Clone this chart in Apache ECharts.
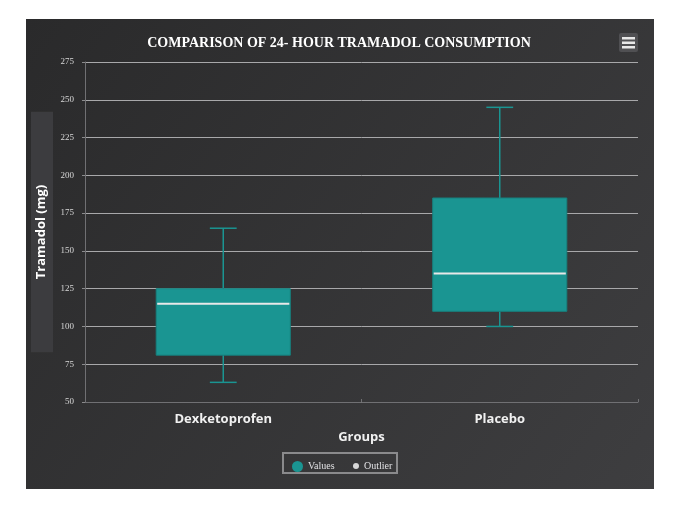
<!DOCTYPE html>
<html>
<head>
<meta charset="utf-8">
<style>
html,body{margin:0;padding:0;background:#ffffff;}
#chart{width:678px;height:519px;}
</style>
<script src="https://cdn.jsdelivr.net/npm/echarts@6/dist/echarts.min.js"></script>
</head>
<body>
<div id="chart"></div>
<script>
var categories = ['Dexketoprofen', 'Placebo'];
var mins = [63, 100];
var q1s = [81, 110];
var medians = [115, 135];
var q3s = [125, 185];
var maxs = [165, 245];
var outliers = [];
var yTicks = [50, 75, 100, 125, 150, 175, 200, 225, 250, 275];

var boxData = categories.map(function (c, i) {
  return [i, mins[i], q1s[i], medians[i], q3s[i], maxs[i]];
});

var teal = '#1a9592';

function renderBox(params, api) {
  var x = api.value(0);
  var pMin = api.coord([x, api.value(1)]);
  var pQ1 = api.coord([x, api.value(2)]);
  var pMed = api.coord([x, api.value(3)]);
  var pQ3 = api.coord([x, api.value(4)]);
  var pMax = api.coord([x, api.value(5)]);
  var bw = api.size([1, 0])[0] * 0.485;
  var cw = bw * 0.2;
  var cx = pMed[0];
  return {
    type: 'group',
    children: [
      {type: 'line', shape: {x1: cx, y1: pMax[1], x2: cx, y2: pQ3[1]}, style: {stroke: teal, lineWidth: 1.5}},
      {type: 'line', shape: {x1: cx, y1: pQ1[1], x2: cx, y2: pMin[1]}, style: {stroke: teal, lineWidth: 1.5}},
      {type: 'line', shape: {x1: cx - cw / 2, y1: pMax[1], x2: cx + cw / 2, y2: pMax[1]}, style: {stroke: teal, lineWidth: 1.5}},
      {type: 'line', shape: {x1: cx - cw / 2, y1: pMin[1], x2: cx + cw / 2, y2: pMin[1]}, style: {stroke: teal, lineWidth: 1.5}},
      {type: 'rect', shape: {x: cx - bw / 2, y: pQ3[1], width: bw, height: pQ1[1] - pQ3[1]}, style: {fill: teal, stroke: '#17807e', lineWidth: 1}},
      {type: 'line', shape: {x1: cx - bw / 2 + 1, y1: pMed[1], x2: cx + bw / 2 - 1, y2: pMed[1]}, style: {stroke: '#e8e8e8', lineWidth: 2}}
    ]
  };
}

var chart = echarts.init(document.getElementById('chart'));
chart.setOption({
  animation: false,
  backgroundColor: '#ffffff',
  graphic: [
    {type: 'rect', z: -10, shape: {x: 26, y: 19, width: 628, height: 470},
     style: {fill: new echarts.graphic.LinearGradient(0, 0, 1, 1, [{offset: 0, color: '#2a2a2b'}, {offset: 1, color: '#3e3e40'}])}},
    {type: 'rect', z: -9, shape: {x: 619, y: 33, width: 19, height: 19, r: 2}, style: {fill: '#505053'}},
    {type: 'rect', z: -8, shape: {x: 622, y: 37, width: 13, height: 2.5}, style: {fill: '#e8e8e8'}},
    {type: 'rect', z: -8, shape: {x: 622, y: 41.5, width: 13, height: 2.5}, style: {fill: '#e8e8e8'}},
    {type: 'rect', z: -8, shape: {x: 622, y: 46, width: 13, height: 2.5}, style: {fill: '#e8e8e8'}},
    {type: 'rect', z: -8, shape: {x: 283, y: 453, width: 114, height: 20}, style: {fill: 'none', stroke: '#8a8a8c', lineWidth: 2}}
  ],
  title: {
    text: 'COMPARISON OF 24- HOUR TRAMADOL CONSUMPTION',
    left: 'center',
    top: 31,
    textStyle: {color: '#ffffff', fontFamily: 'Liberation Serif', fontWeight: 'bold', fontSize: 14}
  },
  legend: [
    {data: ['Values'], left: 287, top: 456, itemWidth: 11, itemHeight: 11, icon: 'circle', itemGap: 10,
     textStyle: {color: '#e0e0e3', fontFamily: 'Liberation Serif', fontSize: 10}},
    {data: ['Outlier'], left: 348, top: 456, itemWidth: 6, itemHeight: 6, icon: 'circle', itemGap: 10,
     textStyle: {color: '#e0e0e3', fontFamily: 'Liberation Serif', fontSize: 10}}
  ],
  grid: {left: 85, right: 40, top: 62, bottom: 117},
  xAxis: {
    type: 'category',
    data: categories,
    name: 'Groups',
    nameLocation: 'middle',
    nameGap: 28,
    nameTextStyle: {color: '#f0f0f0', fontFamily: 'Open Sans', fontWeight: 'bold', fontSize: 13},
    axisLine: {lineStyle: {color: '#707073'}},
    axisTick: {show: true, inside: true, length: 3, lineStyle: {color: '#707073'}},
    axisLabel: {color: '#f0f0f0', fontFamily: 'Open Sans', fontWeight: 'bold', fontSize: 13, margin: 11},
    splitLine: {show: false}
  },
  yAxis: {
    type: 'value',
    min: 50,
    max: 275,
    interval: 25,
    name: 'Tramadol (mg)',
    nameLocation: 'middle',
    nameRotate: 90,
    nameGap: 32,
    nameMoveOverlap: false,
    nameTextStyle: {color: '#ffffff', fontFamily: 'Open Sans', fontWeight: 'bold', fontSize: 13,
      backgroundColor: '#3c3c3f', padding: [4, 73, 5, 73]},
    axisLine: {show: true, lineStyle: {color: '#707073'}},
    axisTick: {show: true, length: 3, lineStyle: {color: '#8a8a8c'}},
    axisLabel: {color: '#d8d8d8', fontFamily: 'Liberation Serif', fontSize: 9, margin: 11,
      formatter: function (v) { return yTicks.indexOf(v) >= 0 ? String(v) : ''; }},
    splitLine: {lineStyle: {color: '#a8a8aa', width: 1}}
  },
  series: [
    {name: 'Values', type: 'custom', renderItem: renderBox, data: boxData, itemStyle: {color: teal},
     encode: {x: 0, y: [1, 2, 3, 4, 5]}},
    {name: 'Outlier', type: 'scatter', data: outliers, itemStyle: {color: '#ffffff'}, symbolSize: 6}
  ]
});
</script>
</body>
</html>
